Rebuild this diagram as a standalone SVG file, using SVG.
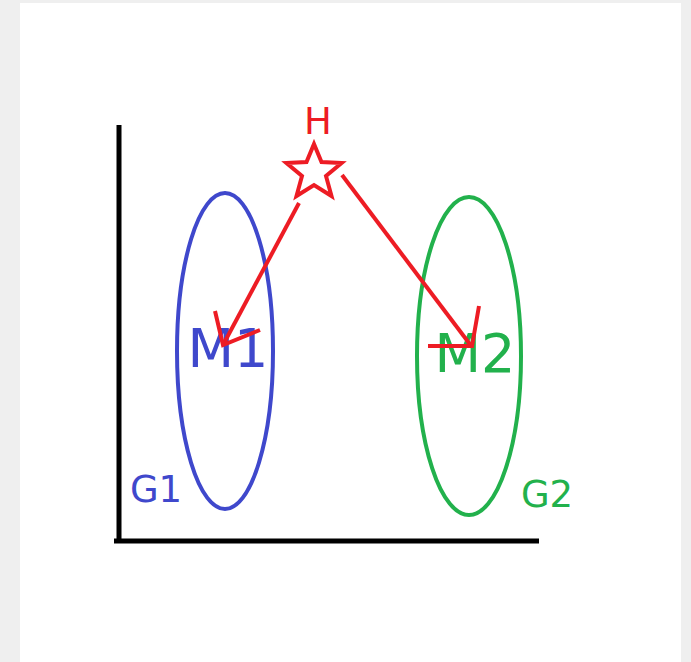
<svg xmlns="http://www.w3.org/2000/svg" width="691" height="662" viewBox="0 0 691 662">
<style>
.red{stroke:#ed1c24;stroke-width:4;fill:none;stroke-linecap:butt;stroke-linejoin:miter}
.axis{stroke:#000;stroke-width:5;fill:none}
text{font-family:"DejaVu Sans","Liberation Sans",sans-serif;text-anchor:middle}
</style>
<rect x="0" y="0" width="691" height="662" fill="#efefef"/>
<rect x="20" y="3" width="661" height="659" fill="#ffffff"/>
<g id="axes">
<line class="axis" x1="119" y1="125" x2="119" y2="541"/>
<line class="axis" x1="114" y1="541" x2="539" y2="541"/>
</g>
<g id="G1">
<ellipse cx="225" cy="351" rx="48" ry="158" fill="none" stroke="#3f48cc" stroke-width="4"/>
<text x="156" y="502" font-size="37" fill="#3f48cc">G1</text>
</g>
<g id="G2">
<ellipse cx="469" cy="356" rx="52" ry="159" fill="none" stroke="#22b14c" stroke-width="4"/>
<text x="547" y="507" font-size="37" fill="#22b14c">G2</text>
</g>
<g id="M1">
<text x="228" y="367" font-size="54" fill="#3f48cc">M1</text>
</g>
<g id="M2">
<text x="475" y="372" font-size="54" fill="#22b14c">M2</text>
</g>
<g id="H">
<polygon class="red" stroke-width="4.5" points="314,144 321.5,162 341.6,163 326,176 331.5,196 314,185 296.5,196 302,176 286.4,163 306.5,162"/>
<text x="318" y="134" font-size="37" fill="#ed1c24">H</text>
</g>
<g id="connectors">
<path class="red" d="M299,203 L223,345"/>
<path class="red" d="M215,311 L223,345 L260,330"/>
<path class="red" d="M342,175 L472,347"/>
<path class="red" d="M428,346 L472,346 L479,306"/>
</g>
</svg>
